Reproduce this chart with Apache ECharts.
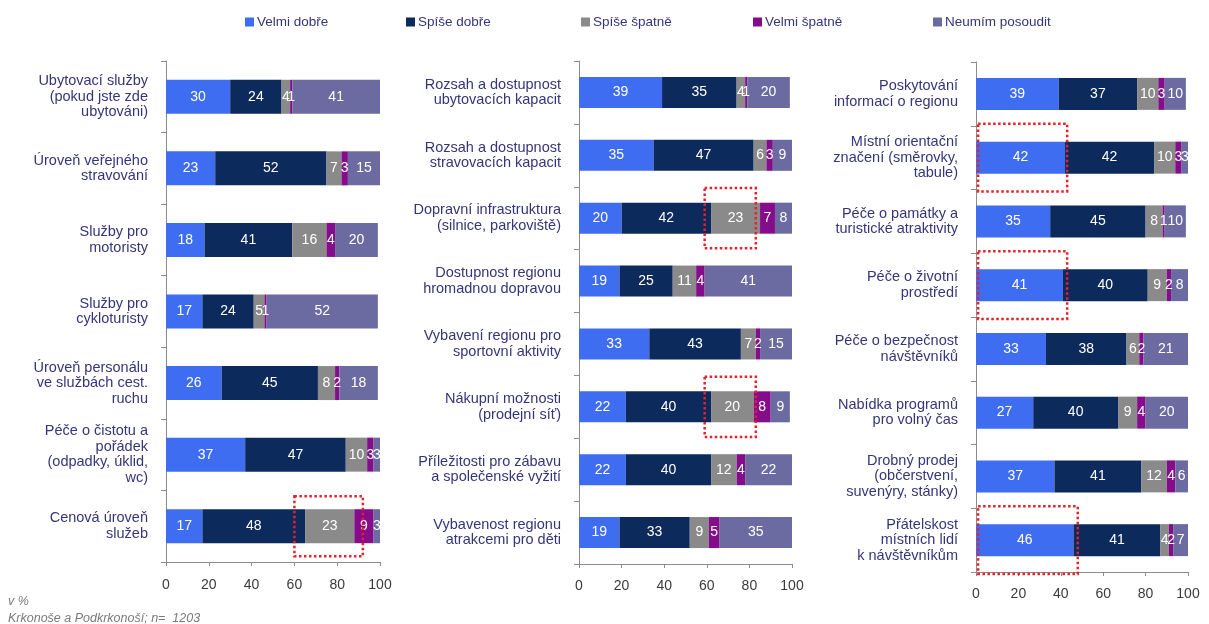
<!DOCTYPE html>
<html>
<head>
<meta charset="utf-8">
<title>Hodnocení služeb – Krkonoše a Podkrkonoší</title>
<script src="https://cdn.jsdelivr.net/npm/echarts@6/dist/echarts.min.js"></script>
<style>
  html, body { margin: 0; padding: 0; background: #fff; }
  #chart { width: 1209px; height: 624px; }
</style>
</head>
<body>
<div id="chart"></div>
<script>
// kategorie odpovědí
const seriesNames = ['Velmi dobře', 'Spíše dobře', 'Spíše špatně', 'Velmi špatně', 'Neumím posoudit'];

// levý panel
const categories1 = [
  'Ubytovací služby\n(pokud jste zde\nubytováni)',
  'Úroveň veřejného\nstravování',
  'Služby pro\nmotoristy',
  'Služby pro\ncykloturisty',
  'Úroveň personálu\nve službách cest.\nruchu',
  'Péče o čistotu a\npořádek\n(odpadky, úklid,\nwc)',
  'Cenová úroveň\nslužeb'
];
const velmiDobre1 = [30, 23, 18, 17, 26, 37, 17];
const spiseDobre1 = [24, 52, 41, 24, 45, 47, 48];
const spiseSpatne1 = [4, 7, 16, 5, 8, 10, 23];
const velmiSpatne1 = [1, 3, 4, 1, 2, 3, 9];
const neumim1 = [41, 15, 20, 52, 18, 3, 3];

// prostřední panel
const categories2 = [
  'Rozsah a dostupnost\nubytovacích kapacit',
  'Rozsah a dostupnost\nstravovacích kapacit',
  'Dopravní infrastruktura\n(silnice, parkoviště)',
  'Dostupnost regionu\nhromadnou dopravou',
  'Vybavení regionu pro\nsportovní aktivity',
  'Nákupní možnosti\n(prodejní síť)',
  'Příležitosti pro zábavu\na společenské vyžití',
  'Vybavenost regionu\natrakcemi pro děti'
];
const velmiDobre2 = [39, 35, 20, 19, 33, 22, 22, 19];
const spiseDobre2 = [35, 47, 42, 25, 43, 40, 40, 33];
const spiseSpatne2 = [4, 6, 23, 11, 7, 20, 12, 9];
const velmiSpatne2 = [1, 3, 7, 4, 2, 8, 4, 5];
const neumim2 = [20, 9, 8, 41, 15, 9, 22, 35];

// pravý panel
const categories3 = [
  'Poskytování\ninformací o regionu',
  'Místní orientační\nznačení (směrovky,\ntabule)',
  'Péče o památky a\nturistické atraktivity',
  'Péče o životní\nprostředí',
  'Péče o bezpečnost\nnávštěvníků',
  'Nabídka programů\npro volný čas',
  'Drobný prodej\n(občerstvení,\nsuvenýry, stánky)',
  'Přátelskost\nmístních lidí\nk návštěvníkům'
];
const velmiDobre3 = [39, 42, 35, 41, 33, 27, 37, 46];
const spiseDobre3 = [37, 42, 45, 40, 38, 40, 41, 41];
const spiseSpatne3 = [10, 10, 8, 9, 6, 9, 12, 4];
const velmiSpatne3 = [3, 3, 1, 2, 2, 4, 4, 2];
const neumim3 = [10, 3, 10, 8, 21, 20, 6, 7];

const xTicks = [0, 20, 40, 60, 80, 100];

// zvýraznění (panel, index kategorie, od, do)
const highlights = [
  [0, 6, 60, 92],
  [1, 2, 59, 83],
  [1, 5, 59, 83],
  [2, 1, 1, 43],
  [2, 3, 1, 43],
  [2, 7, 1, 48]
];

const colors = ['#3f6df2', '#0c2a5c', '#8a8a8a', '#850c8a', '#6b6ba1'];
const FONT = '"Liberation Sans", Arial, sans-serif';
const LABEL_COLOR = '#35357a';

const panels = [
  { cats: categories1, data: [velmiDobre1, spiseDobre1, spiseSpatne1, velmiSpatne1, neumim1],
    grid: { left: 166, top: 61, width: 214, height: 501 }, barWidth: 34, shift: 0, tickMargin: 16 },
  { cats: categories2, data: [velmiDobre2, spiseDobre2, spiseSpatne2, velmiSpatne2, neumim2],
    grid: { left: 579, top: 61, width: 213, height: 503 }, barWidth: 31, shift: 10, tickMargin: 15 },
  { cats: categories3, data: [velmiDobre3, spiseDobre3, spiseSpatne3, velmiSpatne3, neumim3],
    grid: { left: 976, top: 62, width: 212, height: 510 }, barWidth: 32, shift: 6, tickMargin: 15 }
];

const chart = echarts.init(document.getElementById('chart'));

const axisLine = { show: true, lineStyle: { color: '#8c8c8c', width: 1 } };

const option = {
  animation: false,
  textStyle: { fontFamily: FONT },
  color: colors,
  legend: seriesNames.map((name, i) => ({
    data: [name],
    left: [240, 401, 576, 748, 928][i],
    top: 10,
    itemWidth: 9,
    itemHeight: 9,
    icon: 'rect',
    itemGap: 4,
    textStyle: { fontSize: 13.5, color: LABEL_COLOR, fontFamily: FONT, padding: [0, 0, 0, -2] }
  })),
  grid: panels.map(p => Object.assign({ containLabel: false }, p.grid)),
  xAxis: panels.map((p, i) => ({
    type: 'value',
    gridIndex: i,
    min: 0,
    max: 100,
    interval: 20,
    axisLine: axisLine,
    axisTick: { show: true, length: 4, lineStyle: { color: '#8c8c8c' } },
    splitLine: { show: false },
    axisLabel: {
      margin: p.tickMargin,
      fontSize: 14,
      color: '#3a3a3a',
      fontFamily: FONT,
      formatter: v => (xTicks.indexOf(v) >= 0 ? String(v) : '')
    }
  })),
  yAxis: panels.map((p, i) => ({
    type: 'category',
    gridIndex: i,
    inverse: true,
    data: p.cats,
    axisLine: axisLine,
    axisTick: { show: true, length: 5, lineStyle: { color: '#8c8c8c' } },
    axisLabel: {
      margin: 18,
      fontSize: 14.5,
      lineHeight: 15.5,
      color: LABEL_COLOR,
      fontFamily: FONT,
      align: 'right',
      padding: [p.shift, 0, 0, 0]
    }
  })),
  series: []
};

panels.forEach((p, gi) => {
  seriesNames.forEach((name, si) => {
    option.series.push({
      name: name,
      type: 'bar',
      stack: 'panel' + gi,
      xAxisIndex: gi,
      yAxisIndex: gi,
      barWidth: p.barWidth,
      itemStyle: { color: colors[si] },
      label: {
        show: true,
        position: 'inside',
        color: '#ffffff',
        fontSize: 14,
        fontFamily: FONT,
        formatter: '{c}'
      },
      data: p.data[si]
    });
  });
});

chart.setOption(option);

// poznámky a červené rámečky
const graphics = [
  {
    type: 'text', left: 8, top: 595,
    style: { text: 'v %', font: 'italic 12.5px ' + FONT, fill: '#7a7a7a' }
  },
  {
    type: 'text', left: 8, top: 612,
    style: { text: 'Krkonoše a Podkrkonoší; n=  1203', font: 'italic 12.5px ' + FONT, fill: '#7a7a7a' }
  }
];

highlights.forEach(([gi, ci, x0, x1]) => {
  const p = panels[gi];
  const band = p.grid.height / p.cats.length;
  const half = band * [0.42, 0.48, 0.53][gi];
  const a = chart.convertToPixel({ xAxisIndex: gi, yAxisIndex: gi }, [x0, ci]);
  const b = chart.convertToPixel({ xAxisIndex: gi, yAxisIndex: gi }, [x1, ci]);
  graphics.push({
    type: 'rect',
    z: 100,
    shape: { x: a[0], y: a[1] - half, width: b[0] - a[0], height: half * 2 },
    style: { fill: 'none', stroke: '#e8202a', lineWidth: 2.5, lineDash: [2.5, 2.5] }
  });
});

chart.setOption({ graphic: graphics });
</script>
</body>
</html>
